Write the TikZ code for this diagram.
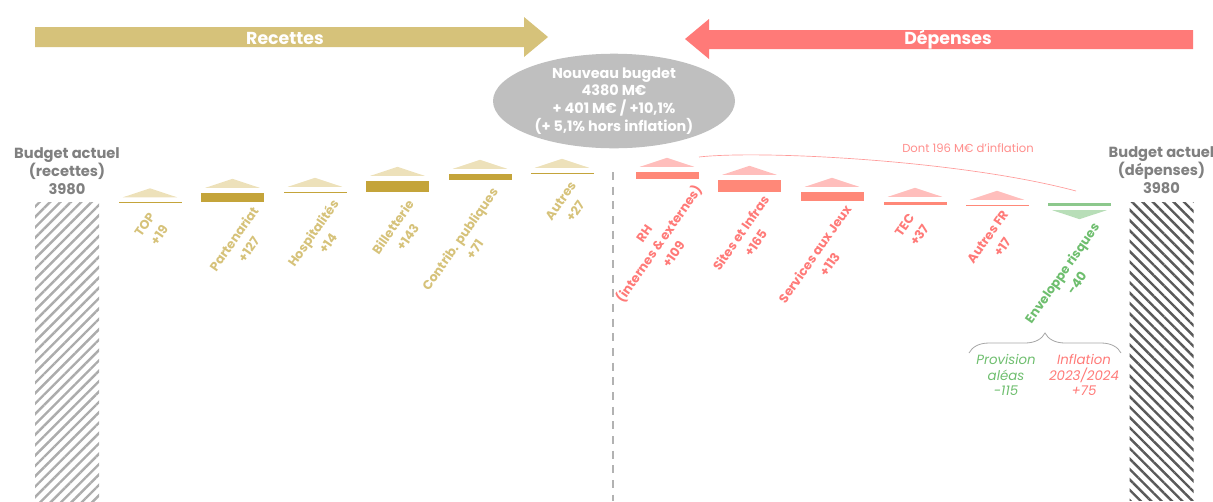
\documentclass[tikz,border=0pt]{standalone}
\usepackage{fontspec}
\setmainfont{Poppins}
\usepackage{xcolor}
\usepackage{tikz}
\definecolor{recgold}{RGB}{214, 194, 122}
\definecolor{recdark}{RGB}{196, 164, 58}
\definecolor{reclight}{RGB}{237, 225, 186}
\definecolor{depred}{RGB}{255, 122, 120}
\definecolor{depsalmon}{RGB}{255, 136, 120}
\definecolor{deplight}{RGB}{255, 190, 188}
\definecolor{riskgreen}{RGB}{110, 190, 110}
\definecolor{riskbar}{RGB}{140, 200, 140}
\definecolor{risklight}{RGB}{184, 222, 184}
\definecolor{budgetgrey}{RGB}{128, 128, 128}
\definecolor{bubblegrey}{RGB}{191, 191, 191}
\usetikzlibrary{shapes.geometric, positioning, calc, decorations.pathreplacing, patterns.meta}

\begin{document}
\begin{tikzpicture}[
    x=0.75pt, y=-0.75pt,
    banner/.style={font=\fontsize{13}{15}\selectfont\bfseries, text=white, inner sep=0pt},
    bubble/.style={ellipse, fill=bubblegrey, minimum width=181.5pt, minimum height=69pt, inner sep=0pt, align=center, text=white, font=\fontsize{10.8}{13.3}\selectfont\bfseries},
    oldbar/.style={rectangle, minimum width=48pt, minimum height=224pt, inner sep=0pt},
    oldlabel/.style={font=\fontsize{11}{13.5}\selectfont\bfseries, text=budgetgrey, align=center, inner sep=0pt},
    recbar/.style={rectangle, fill=recdark, draw=white, line width=0.3pt, minimum width=48pt, minimum height=#1*0.75pt, inner sep=0pt},
    depbar/.style={recbar=#1, fill=depsalmon},
    riskbox/.style={recbar=#1, fill=riskbar},
    itemlabel/.style={rotate=55, align=center, inner sep=1pt, font=\fontsize{9.5}{13.5}\selectfont\bfseries},
    reclabel/.style={itemlabel, text=recgold},
    deplabel/.style={itemlabel, text=depred},
    risklabel/.style={itemlabel, text=riskgreen},
    note/.style={align=center, inner sep=0pt, font=\fontsize{10}{11.6}\selectfont\itshape},
    divider/.style={draw=gray!60, line width=1.5pt, dash pattern=on 6pt off 5pt},
    brace/.style={decorate, decoration={brace, amplitude=15pt}, draw=gray!70, line width=0.6pt},
    inflink/.style={draw=depred!75, line width=0.5pt}
]
    \useasboundingbox (0,0) rectangle (1213,501);

    % Big arrows and new budget
    \fill[recgold] (35,27) -- (524,27) -- (524,17) -- (548,37) -- (524,57) -- (524,47) -- (35,47) -- cycle;
    \node[banner] (rec-title) at (285,38) {Recettes};
    \fill[depred] (1193,30) -- (709,30) -- (709,19) -- (685,39) -- (709,59) -- (709,49) -- (1193,49) -- cycle;
    \node[banner] (dep-title) at (948,40) {Dépenses};
    \node[bubble] (new-budget) at (614,101) {Nouveau bugdet\\4380 M€\\+ 401 M€ / +10,1\%\\(+ 5,1\% hors inflation)};

    % Current budget
    \node[oldbar, pattern={Lines[angle=45, distance=5.5pt, line width=1.8pt]}, pattern color=gray!65] (old-rec) at (67,352) {};
    \node[oldbar, pattern={Lines[angle=-45, distance=5.5pt, line width=1.8pt]}, pattern color=black!65] (old-dep) at (1161.5,351.5) {};
    \node[oldlabel, above=5pt of old-rec] (old-rec-label) {Budget actuel\\(recettes)\\3980};
    \node[oldlabel, above=5pt of old-dep] (old-dep-label) {Budget actuel\\(dépenses)\\3980};
    \draw[divider] (613,172) -- (613,501);

    % Recettes
    \node[recbar=2] (top) at (150,202.5) {};
    \node[recbar=10] (part) at (232.5,197) {};
    \node[recbar=2] (hosp) at (315,192) {};
    \node[recbar=12] (bill) at (397.5,186) {};
    \node[recbar=7] (contrib) at (480,176.5) {};
    \node[recbar=2] (autres) at (562,173) {};
    \fill[reclight] ([shift={(5,-4)}]top.north west) -- ([shift={(-5,-4)}]top.north east) -- ([shift={(0,-13)}]top.north) -- cycle;
    \fill[reclight] ([shift={(5,-4)}]part.north west) -- ([shift={(-5,-4)}]part.north east) -- ([shift={(0,-13)}]part.north) -- cycle;
    \fill[reclight] ([shift={(5,-4)}]hosp.north west) -- ([shift={(-5,-4)}]hosp.north east) -- ([shift={(0,-13)}]hosp.north) -- cycle;
    \fill[reclight] ([shift={(5,-4)}]bill.north west) -- ([shift={(-5,-4)}]bill.north east) -- ([shift={(0,-13)}]bill.north) -- cycle;
    \fill[reclight] ([shift={(5,-4)}]contrib.north west) -- ([shift={(-5,-4)}]contrib.north east) -- ([shift={(0,-13)}]contrib.north) -- cycle;
    \fill[reclight] ([shift={(5,-4)}]autres.north west) -- ([shift={(-5,-4)}]autres.north east) -- ([shift={(0,-13)}]autres.north) -- cycle;
    \node[reclabel] (top-label) at (152,230) {TOP\\+19};
    \node[reclabel] (part-label) at (241,244) {Partenariat\\+127};
    \node[reclabel] (hosp-label) at (320,238) {Hospitalités\\+14};
    \node[reclabel] (bill-label) at (400,232) {Billetterie\\+143};
    \node[reclabel] (contrib-label) at (467,244) {Contrib. publiques\\+71};
    \node[reclabel] (autres-label) at (568,206) {Autres\\+27};

    % Dépenses
    \node[depbar=8] (rh) at (667,175) {};
    \node[depbar=13] (sites) at (749.5,185.5) {};
    \node[depbar=10] (services) at (832,196) {};
    \node[depbar=4] (tec) at (915,203) {};
    \node[depbar=2] (autresfr) at (997,205) {};
    \node[riskbox=4] (risques) at (1079.5,204) {};
    \fill[deplight] ([shift={(5,-4)}]rh.north west) -- ([shift={(-5,-4)}]rh.north east) -- ([shift={(0,-13)}]rh.north) -- cycle;
    \fill[deplight] ([shift={(5,-4)}]sites.north west) -- ([shift={(-5,-4)}]sites.north east) -- ([shift={(0,-13)}]sites.north) -- cycle;
    \fill[deplight] ([shift={(5,-4)}]services.north west) -- ([shift={(-5,-4)}]services.north east) -- ([shift={(0,-13)}]services.north) -- cycle;
    \fill[deplight] ([shift={(5,-4)}]tec.north west) -- ([shift={(-5,-4)}]tec.north east) -- ([shift={(0,-13)}]tec.north) -- cycle;
    \fill[deplight] ([shift={(5,-4)}]autresfr.north west) -- ([shift={(-5,-4)}]autresfr.north east) -- ([shift={(0,-13)}]autresfr.north) -- cycle;
    \fill[risklight] ([shift={(5,4)}]risques.south west) -- ([shift={(-5,4)}]risques.south east) -- ([shift={(0,13)}]risques.south) -- cycle;
    \node[deplabel] (rh-label) at (659,244) {RH\\(internes \& externes)\\+109};
    \node[deplabel] (sites-label) at (748,238) {Sites et Infras\\+165};
    \node[deplabel] (services-label) at (822,259) {Services aux Jeux\\+113};
    \node[deplabel] (tec-label) at (912,230) {TEC\\+37};
    \node[deplabel] (autresfr-label) at (995,242) {Autres FR\\+17};
    \node[risklabel] (risques-label) at (1069,278) {Enveloppe risques\\-40};

    % Inflation
    \coordinate (infl-a) at (699,157);
    \coordinate (infl-b) at (1076,191);
    \draw[inflink] (infl-a) .. controls (760,150) and (960,160) .. (infl-b);
    \node[inner sep=0pt, text=depred!85, font=\fontsize{8.7}{11}\selectfont] (infl-note) at (968,148) {Dont 196 M€ d'inflation};

    % Risk envelope split
    \coordinate (brace-l) at (969,353);
    \coordinate (brace-r) at (1121,353);
    \draw[brace] (brace-l) -- (brace-r);
    \node[note, text=riskgreen] (provision) at (1006,375) {Provision\\aléas\\-115};
    \node[note, text=depred] (inflation) at (1084,375) {Inflation\\2023/2024\\+75};
\end{tikzpicture}
\end{document}
